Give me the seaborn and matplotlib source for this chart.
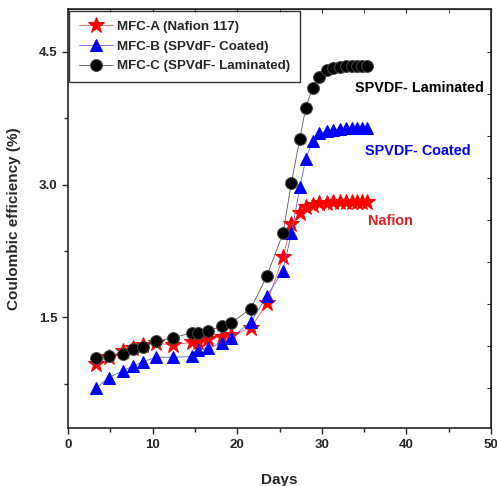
import numpy as np
import pandas as pd
import seaborn as sns
import matplotlib.pyplot as plt
from matplotlib.ticker import MultipleLocator, FixedLocator

# values
days = [3.3, 4.8, 6.5, 7.7, 8.8, 10.4, 12.4, 14.7, 15.3, 16.5, 18.2, 19.3, 21.6, 23.5,
        25.4, 26.4, 27.4, 28.1, 28.9, 29.7, 30.6, 31.3, 32.1, 32.9, 33.6, 34.2, 34.8, 35.3]
nafion = [0.98, 1.05, 1.12, 1.15, 1.19, 1.21, 1.19, 1.22, 1.22, 1.26, 1.28, 1.30, 1.38, 1.66,
          2.18, 2.55, 2.68, 2.75, 2.77, 2.79, 2.79, 2.80, 2.80, 2.80, 2.80, 2.80, 2.80, 2.80]
coated = [0.70, 0.82, 0.90, 0.95, 1.00, 1.05, 1.05, 1.06, 1.13, 1.15, 1.21, 1.27, 1.45, 1.74,
          2.03, 2.45, 2.97, 3.29, 3.49, 3.58, 3.61, 3.62, 3.63, 3.64, 3.64, 3.64, 3.64, 3.64]
laminated = [1.04, 1.07, 1.09, 1.14, 1.17, 1.23, 1.27, 1.33, 1.33, 1.35, 1.40, 1.44, 1.60, 1.97,
             2.45, 3.02, 3.52, 3.87, 4.09, 4.21, 4.29, 4.32, 4.33, 4.34, 4.34, 4.34, 4.34, 4.34]
labels = ["MFC-A (Nafion 117)", "MFC-B (SPVdF- Coated)", "MFC-C (SPVdF- Laminated)"]

sns.set_style("ticks")
plt.rcParams['font.family'] = ['Liberation Sans', 'DejaVu Sans']
plt.rcParams['font.weight'] = 'bold'

fig = plt.figure(figsize=(4.97, 4.86), dpi=100)
ax = fig.add_axes([0.137, 0.119, 0.851, 0.862])

df = pd.DataFrame({"Days": days, "A": nafion, "B": coated, "C": laminated})

# Nafion
sns.lineplot(x="Days", y="A", data=df, ax=ax, label=labels[0], color="#e06060", marker="*",
             markersize=12, markerfacecolor="red", markeredgecolor="red", linewidth=0.6)
# coated
sns.lineplot(x="Days", y="B", data=df, ax=ax, label=labels[1], color="#6060e0", marker="^",
             markersize=8.5, markerfacecolor="blue", markeredgecolor="blue", linewidth=0.6)
# laminated
sns.lineplot(x="Days", y="C", data=df, ax=ax, label=labels[2], color="#555555", marker="o",
             markersize=8.5, markerfacecolor="black", markeredgecolor="#444444", linewidth=0.6)

ax.set_xlim(0, 50)
ax.set_ylim(0.25, 4.98)
ax.xaxis.set_major_locator(MultipleLocator(10))
ax.xaxis.set_minor_locator(MultipleLocator(5))
ax.set_yticks([1.5, 3.0, 4.5])
ax.yaxis.set_minor_locator(MultipleLocator(0.75))
ax.tick_params(which="both", direction="out", width=1, labelsize=9.5)
ax.tick_params(which="major", length=4)
ax.tick_params(which="minor", length=3)
for s in ax.spines.values():
    s.set_linewidth(1.2)
    s.set_visible(True)

top = ax.secondary_xaxis("top")
top.set_xticks(np.arange(0, 51, 10))
top.xaxis.set_minor_locator(MultipleLocator(5))
top.tick_params(which="both", direction="in", labeltop=False, length=3)
right = ax.secondary_yaxis("right")
right.yaxis.set_major_locator(FixedLocator(np.arange(4.5, 0.3, -0.475)))
right.tick_params(which="both", direction="in", labelright=False, length=3)

ax.set_xlabel("Days", fontsize=11, fontweight="bold", labelpad=16)
ax.set_ylabel("Coulombic efficiency (%)", fontsize=11, fontweight="bold", labelpad=13)

ax.text(33.9, 4.09, "SPVDF- Laminated", color="black", fontsize=10.4, fontweight="bold", va="center")
ax.text(35.1, 3.38, "SPVDF- Coated", color="blue", fontsize=10.4, fontweight="bold", va="center")
ax.text(35.5, 2.59, "Nafion", color="#e02020", fontsize=10.4, fontweight="bold", va="center")

leg = ax.legend(loc="upper left", fontsize=9.6, frameon=True, fancybox=False,
                edgecolor="black", borderpad=0.75, handlelength=2.5, handletextpad=0.3,
                labelspacing=0.55, borderaxespad=0.1)
leg.get_frame().set_linewidth(1.0)
for t in leg.get_texts():
    t.set_fontweight("bold")

fig.savefig("out.png", dpi=100)
